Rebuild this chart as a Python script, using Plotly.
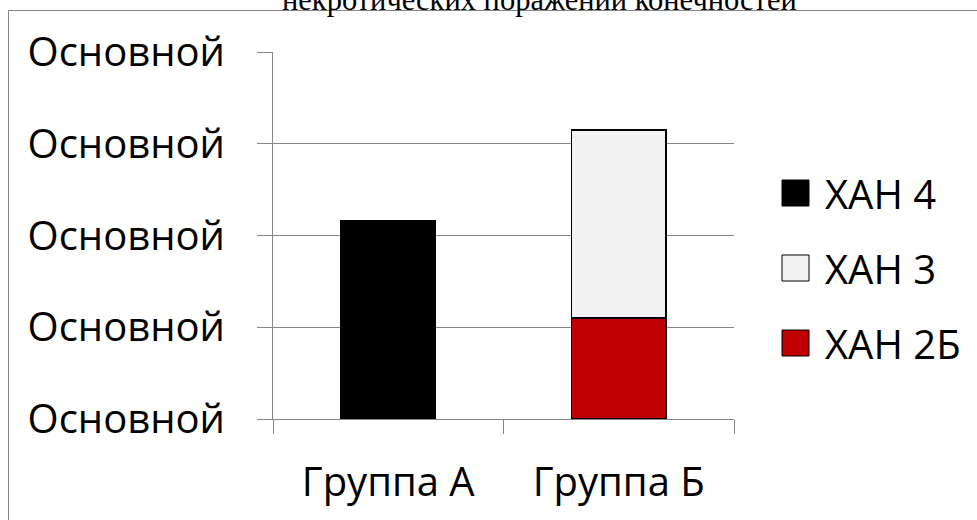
import plotly.graph_objects as go

# ---- data ----
categories = ["Группа А", "Группа Б"]
series_names = ["ХАН 2Б", "ХАН 3", "ХАН 4"]
han2b = [0, 1.10]
han3 = [0, 2.05]
han4 = [2.16, 0]
series_colors = ["#C00000", "#F2F2F2", "#000000"]
y_tickvals = [0, 1, 2, 3, 4]
y_ticktext = ["Основной", "Основной", "Основной", "Основной", "Основной"]
title_text = "некротических поражений конечностей"
legend_order = ["ХАН 4", "ХАН 3", "ХАН 2Б"]

FONT = "Open Sans"
GRID = "#868686"

# plot area in pixels
W, H = 977, 520
L, R, T, B = 273, 734, 52, 419


def px_x(p):
    return (p - L) / (R - L)


def px_y(p):
    return (B - p) / (B - T)


fig = go.Figure()
values = {"ХАН 2Б": han2b, "ХАН 3": han3, "ХАН 4": han4}
for name, color in zip(series_names, series_colors):
    fig.add_trace(go.Bar(
        x=categories, y=values[name], name=name,
        marker=dict(color=color, line=dict(color="#000000", width=1.5)),
        width=0.41, showlegend=False,
    ))

# manual legend (large swatches like the original)
color_of = dict(zip(series_names, series_colors))
legend_y = [193, 268, 343]
for name, py in zip(legend_order, legend_y):
    fig.add_shape(type="rect", xref="paper", yref="paper",
                  x0=px_x(782), x1=px_x(809), y0=px_y(py + 13), y1=px_y(py - 13),
                  fillcolor=color_of[name], line=dict(color="#000000", width=1))
    fig.add_annotation(xref="paper", yref="paper", x=px_x(823), y=px_y(py),
                       xanchor="left", yanchor="middle", text=name, showarrow=False,
                       font=dict(family=FONT, size=40, color="#000000"))

# outer border of the chart area
fig.add_shape(type="rect", xref="paper", yref="paper",
              x0=px_x(8.5), x1=px_x(1100), y0=px_y(700), y1=px_y(10.5),
              line=dict(color=GRID, width=1), fillcolor="rgba(0,0,0,0)", layer="below")

# partially cut title (top half lies outside the page, as in the original)
fig.add_annotation(xref="paper", yref="paper", x=px_x(539), y=px_y(17.5),
                   xanchor="center", yanchor="bottom", text=title_text, showarrow=False,
                   borderpad=0,
                   font=dict(family="Liberation Serif", size=30.5, color="#000000"))

fig.update_layout(
    width=W, height=H,
    margin=dict(l=L, r=W - R, t=T, b=H - B, pad=0),
    barmode="stack",
    plot_bgcolor="#ffffff", paper_bgcolor="#ffffff",
    font=dict(family=FONT, size=40, color="#000000"),
    showlegend=False,
)
fig.update_yaxes(
    range=[0, 4.003], tickvals=y_tickvals, ticktext=y_ticktext,
    showgrid=True, gridcolor=GRID, gridwidth=1,
    showline=True, linecolor=GRID, linewidth=1,
    ticks="outside", ticklen=15, tickcolor=GRID, tickwidth=1,
    ticklabelstandoff=24, zeroline=False,
    tickfont=dict(family=FONT, size=40, color="#000000"),
)
fig.update_xaxes(
    type="category", range=[-0.5, 1.5],
    showgrid=False, showline=True, linecolor=GRID, linewidth=1,
    ticks="outside", tickson="boundaries", ticklen=14, tickcolor=GRID, tickwidth=1,
    ticklabelstandoff=28,
    tickfont=dict(family=FONT, size=40, color="#000000"),
)

fig.write_html("out.html", config={"displayModeBar": False},
               post_script="document.body.style.margin='0';")
